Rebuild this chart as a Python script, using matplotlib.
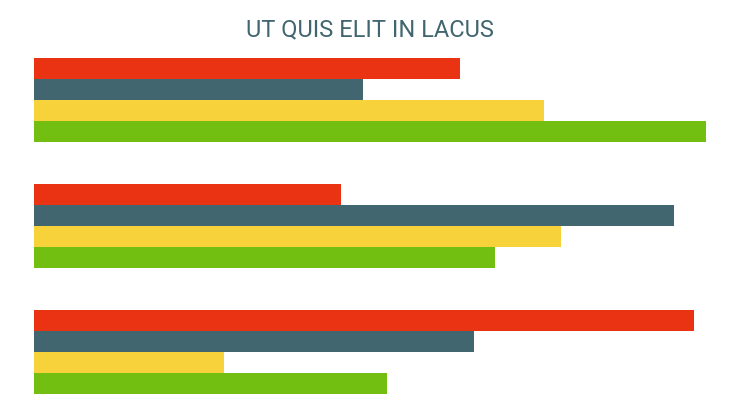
import numpy as np
import matplotlib
matplotlib.use("Agg")
import matplotlib.pyplot as plt

# Chart data (share of the longest bar, 0-100)
groups = ["Group 1", "Group 2", "Group 3"]
series_names = ["Red", "Teal", "Yellow", "Green"]
red = [63.4, 45.7, 98.2]
teal = [49.0, 95.2, 65.5]
yellow = [75.9, 78.4, 28.3]
green = [100.0, 68.6, 52.5]
colors = ["#EA3313", "#41666F", "#F7D23B", "#72BF11"]
title = "UT QUIS ELIT IN LACUS"

fig = plt.figure(figsize=(7.4, 4.14), dpi=100)
ax = fig.add_axes([33.5 / 740, 1 - 394.8 / 414, 672.5 / 740, 335.5 / 414])

centers = np.arange(len(groups)) * 6.0
for k, vals in enumerate([red, teal, yellow, green]):
    ax.barh(centers + (k - 1.5), vals, height=1.0, color=colors[k],
            label=series_names[k], linewidth=0)

ax.set_xlim(0, 100)
ax.set_ylim(centers[-1] + 2, centers[0] - 2)
ax.axis("off")

fig.text(0.5, 1 - 36.5 / 414, title, ha="center", va="baseline",
         fontsize=17, color="#41666F", family="Roboto")

fig.savefig("out.png", dpi=100)
